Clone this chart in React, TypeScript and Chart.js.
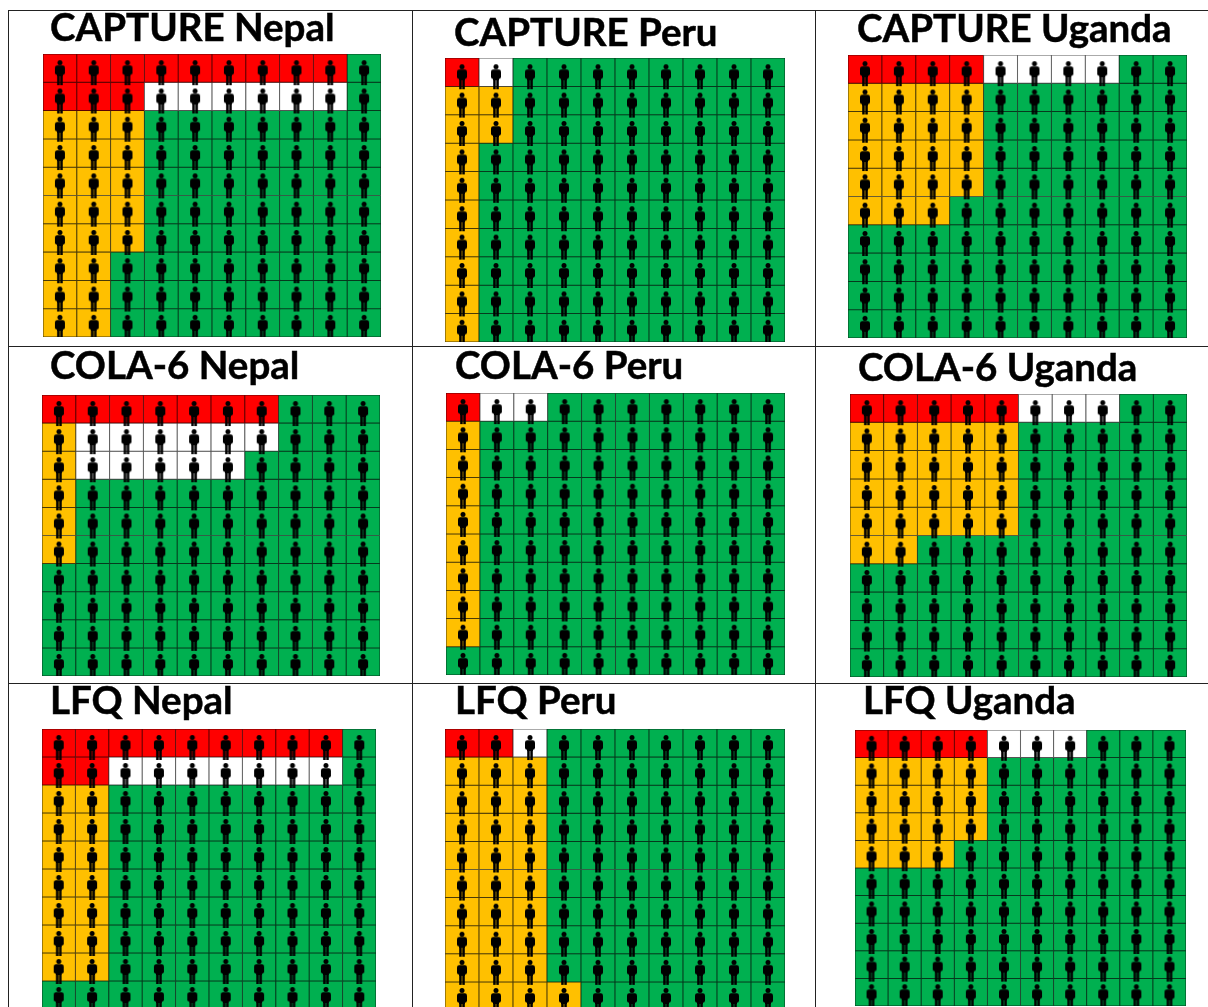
import React, { useEffect, useRef } from "react";
import { Chart, registerables } from "chart.js";

Chart.register(...registerables);

// R = red, W = white, A = amber, G = green; one string per row, top row first
const columns = ["1", "2", "3", "4", "5", "6", "7", "8", "9", "10"];

const captureNepal = ["RRRRRRRRRG", "RRRWWWWWWG", "AAAGGGGGGG", "AAAGGGGGGG", "AAAGGGGGGG", "AAAGGGGGGG", "AAAGGGGGGG", "AAGGGGGGGG", "AAGGGGGGGG", "AAGGGGGGGG"];
const capturePeru = ["RWGGGGGGGG", "AAGGGGGGGG", "AAGGGGGGGG", "AGGGGGGGGG", "AGGGGGGGGG", "AGGGGGGGGG", "AGGGGGGGGG", "AGGGGGGGGG", "AGGGGGGGGG", "AGGGGGGGGG"];
const captureUganda = ["RRRRWWWWGG", "AAAAGGGGGG", "AAAAGGGGGG", "AAAAGGGGGG", "AAAAGGGGGG", "AAAGGGGGGG", "GGGGGGGGGG", "GGGGGGGGGG", "GGGGGGGGGG", "GGGGGGGGGG"];
const colaNepal = ["RRRRRRRGGG", "AWWWWWWGGG", "AWWWWWGGGG", "AGGGGGGGGG", "AGGGGGGGGG", "AGGGGGGGGG", "GGGGGGGGGG", "GGGGGGGGGG", "GGGGGGGGGG", "GGGGGGGGGG"];
const colaPeru = ["RWWGGGGGGG", "AGGGGGGGGG", "AGGGGGGGGG", "AGGGGGGGGG", "AGGGGGGGGG", "AGGGGGGGGG", "AGGGGGGGGG", "AGGGGGGGGG", "AGGGGGGGGG", "GGGGGGGGGG"];
const colaUganda = ["RRRRRWWWGG", "AAAAAGGGGG", "AAAAAGGGGG", "AAAAAGGGGG", "AAAAAGGGGG", "AAGGGGGGGG", "GGGGGGGGGG", "GGGGGGGGGG", "GGGGGGGGGG", "GGGGGGGGGG"];
const lfqNepal = ["RRRRRRRRRG", "RRWWWWWWWG", "AAGGGGGGGG", "AAGGGGGGGG", "AAGGGGGGGG", "AAGGGGGGGG", "AAGGGGGGGG", "AAGGGGGGGG", "AAGGGGGGGG", "GGGGGGGGGG"];
const lfqPeru = ["RRWGGGGGGG", "AAAGGGGGGG", "AAAGGGGGGG", "AAAGGGGGGG", "AAAGGGGGGG", "AAAGGGGGGG", "AAAGGGGGGG", "AAAGGGGGGG", "AAAGGGGGGG", "AAAAGGGGGG"];
const lfqUganda = ["RRRRWWWGGG", "AAAAGGGGGG", "AAAAGGGGGG", "AAAAGGGGGG", "AAAGGGGGGG", "GGGGGGGGGG", "GGGGGGGGGG", "GGGGGGGGGG", "GGGGGGGGGG", "GGGGGGGGGG"];

const fills: Record<string, string> = { R: "#FF0000", W: "#FFFFFF", A: "#FFC000", G: "#00B050" };
const edges: Record<string, string> = { R: "#5a0000", W: "#555555", A: "#4a3a08", G: "#063a1e" };

// Layout in page pixels: plot rectangle and title placement
const panels = [
  { title: "CAPTURE Nepal", rows: captureNepal, x0: 43, x1: 381, y0: 54, y1: 337, tx: 50, base: 40 },
  { title: "CAPTURE Peru", rows: capturePeru, x0: 445, x1: 785, y0: 58, y1: 342, tx: 454, base: 45 },
  { title: "CAPTURE Uganda", rows: captureUganda, x0: 848, x1: 1187, y0: 55, y1: 338, tx: 857, base: 41 },
  { title: "COLA-6 Nepal", rows: colaNepal, x0: 42, x1: 380, y0: 395, y1: 676, tx: 50, base: 378 },
  { title: "COLA-6 Peru", rows: colaPeru, x0: 446, x1: 785, y0: 393, y1: 675, tx: 455, base: 378 },
  { title: "COLA-6 Uganda", rows: colaUganda, x0: 850, x1: 1187, y0: 394, y1: 677, tx: 858, base: 380 },
  { title: "LFQ Nepal", rows: lfqNepal, x0: 42, x1: 376, y0: 729, y1: 1009, tx: 50, base: 713 },
  { title: "LFQ Peru", rows: lfqPeru, x0: 445, x1: 785, y0: 729, y1: 1010, tx: 455, base: 713 },
  { title: "LFQ Uganda", rows: lfqUganda, x0: 855, x1: 1186, y0: 730, y1: 1006, tx: 863, base: 713 },
];

const tableLines = [
  { left: 8, top: 10, width: 1200, height: 1 },
  { left: 8, top: 346, width: 1200, height: 1 },
  { left: 8, top: 683, width: 1200, height: 1 },
  { left: 8, top: 10, width: 1, height: 997 },
  { left: 412, top: 10, width: 1, height: 997 },
  { left: 815, top: 10, width: 1, height: 997 },
];

function makePerson(): HTMLCanvasElement {
  // Figure is about 10x25 and sits a little below the cell centre
  const c = document.createElement("canvas");
  c.width = 12;
  c.height = 36;
  const g = c.getContext("2d")!;
  g.fillStyle = "#000";
  const top = 10;
  g.beginPath();
  g.arc(6, top + 2.4, 2.5, 0, Math.PI * 2);
  g.fill();
  g.beginPath();
  g.roundRect(1, top + 5.2, 10, 9.5, 2.2);
  g.fill();
  g.fillRect(3, top + 12, 6, 4);
  g.fillRect(3.2, top + 15, 2.5, 10);
  g.fillRect(6.3, top + 15, 2.5, 10);
  g.clearRect(2.6, top + 9, 0.5, 6);
  g.clearRect(8.9, top + 9, 0.5, 6);
  return c;
}

function Panel({ panel, person }: { panel: (typeof panels)[number]; person: () => HTMLCanvasElement }) {
  const ref = useRef<HTMLCanvasElement>(null);
  useEffect(() => {
    const cells = panel.rows.map((row) => row.split(""));
    const bars = cells.map((row, r) => ({
      type: "bar" as const,
      data: row.map(() => [r, r + 1]),
      backgroundColor: row.map((k) => fills[k]),
      borderColor: row.map((k) => edges[k]),
      borderWidth: 0.85,
      borderSkipped: false,
      grouped: false,
      barPercentage: 1,
      categoryPercentage: 1,
      order: 2,
    }));
    const people = cells.map((row, r) => ({
      type: "line" as const,
      data: row.map(() => r + 0.5),
      showLine: false,
      pointStyle: person(),
      pointRadius: 6,
      order: 1,
    }));
    const chart = new Chart(ref.current!, {
      type: "bar",
      data: { labels: columns, datasets: [...bars, ...people] as any },
      options: {
        animation: false,
        responsive: false,
        layout: { padding: 2, autoPadding: false },
        plugins: { legend: { display: false }, tooltip: { enabled: false }, title: { display: false } },
        scales: {
          x: { display: false, grid: { display: false } },
          y: { display: false, reverse: true, min: 0, max: 10, grid: { display: false } },
        },
      },
    });
    return () => chart.destroy();
  }, []);
  return (
    <canvas
      ref={ref}
      width={panel.x1 - panel.x0 + 4}
      height={panel.y1 - panel.y0 + 4}
      style={{ position: "absolute", left: panel.x0 - 2, top: panel.y0 - 2 }}
    />
  );
}

export default function App() {
  const personRef = useRef<HTMLCanvasElement | null>(null);
  const person = () => (personRef.current ??= makePerson());
  return (
    <div style={{ position: "fixed", inset: 0, width: 1208, height: 1007, overflow: "hidden", background: "#fff" }}>
      <div style={{ position: "absolute", inset: 0, filter: "blur(0.4px)" }}>
        {tableLines.map((l, i) => (
          <div key={i} style={{ position: "absolute", background: "#222", ...l }} />
        ))}
        {panels.map((p) => (
          <div
            key={p.title}
            style={{
              position: "absolute",
              left: p.tx,
              top: p.base - 37,
              whiteSpace: "nowrap",
              font: "bold 38.5px/46px Lato, sans-serif",
              WebkitTextStroke: "0.5px #000",
              color: "#000",
            }}
          >
            {p.title}
          </div>
        ))}
        {panels.map((p) => (
          <Panel key={p.title} panel={p} person={person} />
        ))}
      </div>
    </div>
  );
}
